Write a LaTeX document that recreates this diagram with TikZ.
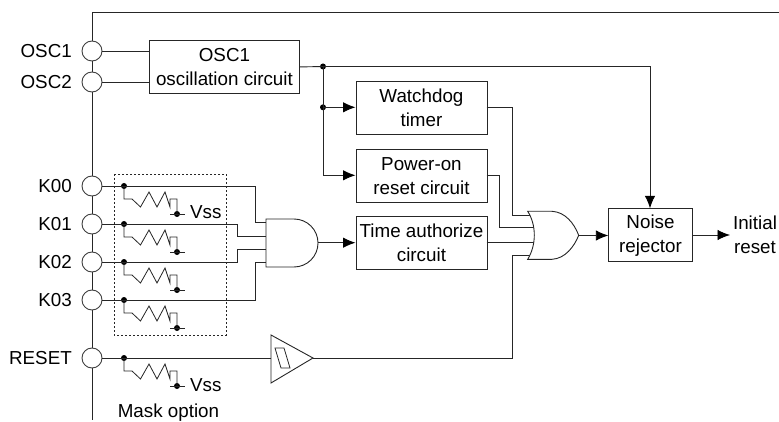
\documentclass[tikz,border=0pt]{standalone}
\usepackage{fontspec}
\setmainfont{Liberation Sans}
\usetikzlibrary{arrows.meta}
\tikzset{
  x=1pt,y=-1pt,
  wire/.style={draw=black!85,line width=0.9pt},
  arr/.style={wire,-{Latex[length=12.5pt,width=10.5pt,black]}},
  blockbox/.style={draw=black!85,line width=0.9pt,fill=white,inner sep=0pt,align=center,font=\fontsize{18.8}{24}\selectfont,anchor=north west},
  pin/.style={circle,draw=black!75,fill=white,line width=0.9pt,minimum size=20pt,inner sep=0pt},
  dot/.style={circle,fill=black,inner sep=0pt,minimum size=6pt},
  lbl/.style={font=\fontsize{18.8}{24}\selectfont,inner sep=0pt,align=center},
  pinlbl/.style={lbl,anchor=east}
}
\newcommand{\resist}[2]{%
  \node[dot] (#2a) at (124,#1) {};
  \node[dot] (#2b) at (177,#1+28) {};
  \draw[wire,line width=0.8pt] (#2a.center) -- (124,#1+13) -- (132,#1+13) -- (140.5,#1+21) -- (149,#1+6) -- (157,#1+21) -- (165,#1+6) -- (170,#1+21) -- (170,#1+13) -- (177,#1+13) -- (#2b.center);
  \draw[wire,line width=0.8pt] (170,#1+28) -- (185,#1+28);
}
\begin{document}
\begin{tikzpicture}
\useasboundingbox (0,0) rectangle (779,422);
% frame
\coordinate (tr) at (779,12.5);
\coordinate (tl) at (92,12.5);
\coordinate (bl) at (92,420);
\draw[wire] (tr) -- (tl) -- (bl);
% pins
\node[pin] (osca) at (92,51) {};
\node[pin] (oscb) at (92,82) {};
\node[pin] (ka) at (92,186) {};
\node[pin] (kb) at (92,224) {};
\node[pin] (kc) at (92,262) {};
\node[pin] (kd) at (92,300) {};
\node[pin] (rst) at (92,358) {};
\node[pinlbl] (losca) at (72,51) {OSC1};
\node[pinlbl] (loscb) at (72,82) {OSC2};
\node[pinlbl] (lka) at (72,186) {K00};
\node[pinlbl] (lkb) at (72,224) {K01};
\node[pinlbl] (lkc) at (72,262) {K02};
\node[pinlbl] (lkd) at (72,300) {K03};
\node[pinlbl] (lrst) at (72,358) {RESET};
% boxes
\node[blockbox,minimum width=150pt,minimum height=53pt] (osc) at (149,40) {OSC1\\oscillation circuit};
\node[blockbox,minimum width=131pt,minimum height=53pt] (wd) at (355.5,81) {Watchdog\\timer};
\node[blockbox,minimum width=131pt,minimum height=53pt] (por) at (355.5,149) {Power-on\\reset circuit};
\node[blockbox,minimum width=131pt,minimum height=53pt] (ta) at (355.5,216) {Time authorize\\circuit};
\node[blockbox,minimum width=83.5pt,minimum height=53pt] (nr) at (608.3,208.3) {Noise\\rejector};
% dotted
\draw[draw=black!85,dash pattern=on 2pt off 2pt,line width=0.8pt] (114,174) rectangle (226,335);
% wires
\draw[wire] (osca) -- (osc.west |- osca);
\draw[wire] (oscb) -- (osc.west |- oscb);
\node[dot] (ja) at (323,66.5) {};
\node[dot] (jb) at (323,107.3) {};
\draw[wire] (osc.east) -- (ja.center);
\coordinate (nrtop) at (650,66.5);
\coordinate (nrin) at (650,208.3);
\draw[arr] (ja.center) -- (nrtop) -- (nrin);
\coordinate (jc) at (323,175.3);
\draw[wire] (ja.center) -- (jc);
\draw[arr] (jb.center) -- (wd.west |- jb);
\draw[arr] (jc) -- (por.west |- jc);
% AND gate
\draw[draw=black!85,fill=white,line width=0.9pt] (266,219) -- (294,219) .. controls (307.25,219) and (318,229.75) .. (318,243) .. controls (318,256.25) and (307.25,267) .. (294,267) -- (266,267) -- cycle;
\coordinate (andout) at (318,242.7);
\draw[arr] (andout) -- (ta.west |- andout);
\foreach \y/\n in {186/a,224/b,262/c,300/d} {\resist{\y}{r\n}}
\resist{358}{re}
\draw[wire] (ka) -- (255,186) -- (255,222) -- (266,222);
\draw[wire] (kb) -- (237,224) -- (237,236) -- (266,236);
\draw[wire] (kc) -- (237,262) -- (237,249) -- (266,249);
\draw[wire] (kd) -- (255,300) -- (255,262) -- (266,262);
% buffer
\draw[draw=black!85,fill=white,line width=0.9pt] (271,335) -- (313,358) -- (271,383) -- cycle;
\draw[wire,line width=0.8pt] (275,348) -- (284,348) -- (290,368) -- (281,368) -- cycle;
\draw[wire] (rst) -- (271,358);
% OR gate
\coordinate (wdr) at (486.5,107.3);
\coordinate (porr) at (486.5,175.3);
\coordinate (tar) at (486.5,242.7);
\draw[wire] (wdr) -- (512.5,107.3) -- (512.5,215) -- (533,215);
\draw[wire] (porr) -- (499,175.3) -- (499,227.7) -- (534,227.7);
\draw[wire] (tar) -- (534,242.7);
\draw[wire] (313,358) -- (512.5,358) -- (512.5,255.7) -- (533,255.7);
\draw[draw=black!85,fill=white,line width=0.9pt] (527.7,211.3) -- (552,211.3) .. controls (565,212) and (574,223) .. (578.7,235.3) .. controls (574,247) and (565,258.6) .. (552,259.3) -- (527.7,259.3) .. controls (536.5,245) and (536.5,225) .. (527.7,211.3) -- cycle;
\coordinate (orout) at (578.7,235.5);
\draw[arr] (orout) -- (nr.west |- orout);
\coordinate (rstout) at (730,235);
\draw[arr] (nr.east |- rstout) -- (rstout);
% labels
\node[lbl,anchor=center] (init) at (755,235) {Initial\\reset};
\node[lbl,anchor=west] (vssa) at (190,212) {Vss};
\node[lbl,anchor=west] (vssb) at (190,385) {Vss};
\node[lbl] (mask) at (168.5,413) {Mask option};
\end{tikzpicture}
\end{document}
